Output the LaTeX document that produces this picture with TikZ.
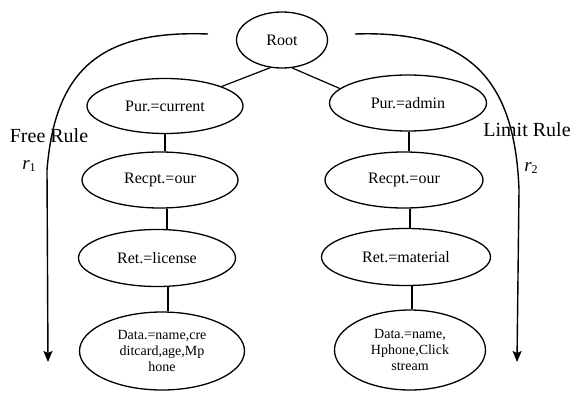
\documentclass[tikz,border=0pt]{standalone}
\usepackage{fontspec}
\setmainfont{Liberation Serif}
\usetikzlibrary{shapes.geometric,arrows.meta}
\begin{document}
\begin{tikzpicture}[x=1pt,y=-1pt,
  el/.style={ellipse,draw,line width=1.3pt,inner sep=0pt,font=\fontsize{16}{18}\selectfont},
  dat/.style={el,align=center,font=\fontsize{14}{16}\selectfont},
  conn/.style={line width=1.2pt},
  rulearrow/.style={line width=1.4pt,-{Stealth[length=11pt,width=9pt,inset=2pt]}},
  lbl/.style={font=\fontsize{20}{22}\selectfont,inner sep=0pt},
  rlbl/.style={font=\fontsize{19}{21}\selectfont,inner sep=0pt}]
\useasboundingbox (0,0) rectangle (577,396);
\fill[white] (0,0) rectangle (577,396);

\node[el,minimum width=91pt,minimum height=56pt] (root) at (282,40) {Root};
\node[el,minimum width=156pt,minimum height=55pt] (pc) at (165,106) {Pur.=current};
\node[el,minimum width=157pt,minimum height=56pt] (pa) at (408,103) {Pur.=admin};
\node[el,minimum width=156pt,minimum height=56pt] (rc) at (160,180) {Recpt.=our};
\node[el,minimum width=158pt,minimum height=56pt] (ra) at (404,180) {Recpt.=our};
\node[el,minimum width=157pt,minimum height=57pt] (lc) at (157,258) {Ret.=license};
\node[el,minimum width=169pt,minimum height=57pt] (la) at (406,257) {Ret.=material};
\node[dat,minimum width=165pt,minimum height=78pt] (dc) at (162,351) {Data.=name,cre\\ditcard,age,Mp\\hone};
\node[dat,minimum width=151pt,minimum height=80pt] (da) at (410,350) {Data.=name,\\Hphone,Click\\stream};

\draw[conn] (root.247) -- (pc.19);
\draw[conn] (root.290) -- (pa.168);
\draw[conn] (pc.south) -- (pc.south |- rc.north);
\draw[conn] ([xshift=7]rc.south) -- ([xshift=7]rc.south |- lc.north);
\draw[conn] ([xshift=11]lc.south) -- ([xshift=11]lc.south |- dc.north);
\draw[conn] ([xshift=1]pa.south) -- ([xshift=1]pa.south |- ra.north);
\draw[conn] ([xshift=6]ra.south) -- ([xshift=6]ra.south |- la.north);
\draw[conn] ([xshift=6]la.south) -- ([xshift=6]la.south |- da.north);

\coordinate (l0) at (208,34);
\coordinate (l1) at (47,170);
\coordinate (l2) at (48,362);
\draw[rulearrow] (l0) .. controls (100,30) and (55,70) .. (l1) -- (l2);
\coordinate (r0) at (355,34);
\coordinate (r1) at (519,190);
\coordinate (r2) at (517,362);
\draw[rulearrow] (r0) .. controls (470,30) and (515,80) .. (r1) -- (r2);

\node[lbl] (free) at (49,136) {Free Rule};
\node[lbl] (limit) at (527,130) {Limit Rule};
\node[rlbl] (ra1) at (29,166) {\textit{r}\raisebox{-0.25ex}{\fontsize{12}{14}\selectfont 1}};
\node[rlbl] (ra2) at (531,168) {\textit{r}\raisebox{-0.25ex}{\fontsize{12}{14}\selectfont 2}};
\end{tikzpicture}
\end{document}
